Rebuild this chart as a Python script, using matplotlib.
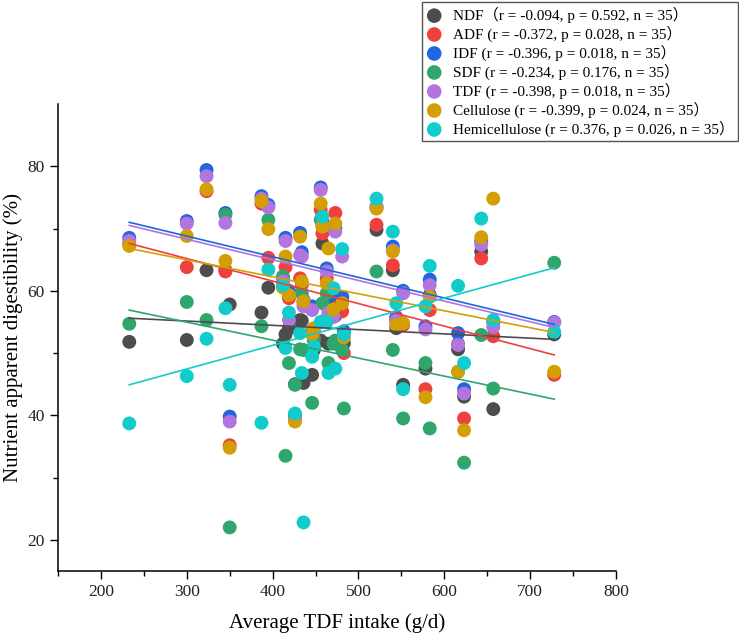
import numpy as np
import matplotlib.pyplot as plt

plt.rcParams['font.family'] = ['Liberation Serif', 'Noto Sans CJK SC', 'DejaVu Sans']

# average TDF intake (g/d), one value per animal
tdf = [233, 300, 323, 345, 350, 387, 395, 412, 415, 419, 426, 432, 434, 436, 446,
       448, 456, 458, 463, 465, 471, 473, 481, 483, 521, 540, 544, 552, 578, 583,
       616, 623, 643, 657, 728]

ndf = [51.8, 52.1, 63.3, 63.3, 57.8, 56.5, 60.5, 51.5, 53.0, 54.0, 45.0, 55.3, 55.2, 45.2, 46.5,
       50.5, 52.0, 67.6, 55.5, 51.5, 59.0, 56.0, 59.0, 51.6, 69.8, 63.3, 54.0, 44.9, 47.5, 59.3,
       50.6, 43.0, 66.3, 41.0, 53.0]
adf = [67.5, 63.8, 76.0, 63.1, 35.2, 74.0, 65.3, 61.0, 63.8, 58.8, 39.2, 62.0, 61.0, 58.0, 53.5,
       52.5, 73.0, 69.2, 62.0, 58.5, 57.0, 72.5, 56.7, 50.0, 70.6, 64.1, 55.8, 54.5, 44.2, 56.9,
       51.5, 39.5, 65.2, 52.7, 46.5]
idf = [68.5, 71.2, 79.4, 72.5, 39.8, 75.2, 73.8, 62.0, 68.5, 60.0, 40.0, 69.3, 66.2, 58.5, 57.5,
       53.8, 76.6, 71.0, 63.6, 59.0, 56.5, 70.0, 59.0, 53.5, 73.5, 67.1, 55.5, 60.0, 54.3, 61.8,
       53.2, 44.2, 68.0, 55.0, 55.0]
sdf = [54.7, 58.2, 55.3, 72.2, 22.0, 54.3, 71.4, 62.3, 33.5, 48.4, 44.9, 50.6, 59.6, 50.5, 42.0,
       52.0, 71.4, 58.0, 59.6, 48.4, 51.5, 52.0, 50.5, 41.1, 63.1, 50.5, 55.0, 39.5, 48.4, 37.9,
       47.0, 32.4, 52.9, 44.3, 64.5]
tdf_dig = [68.0, 70.8, 78.4, 70.9, 39.0, 74.8, 73.4, 61.5, 68.0, 55.3, 39.5, 65.7, 65.5, 57.5, 56.9,
           53.5, 76.2, 70.5, 63.1, 56.5, 55.8, 69.5, 65.5, 53.0, 73.3, 66.5, 55.2, 59.6, 53.8, 60.9,
           51.3, 43.5, 67.4, 54.2, 54.9]
cellulose = [67.2, 68.8, 76.3, 64.8, 34.8, 74.4, 69.9, 60.5, 65.5, 59.3, 39.0, 68.7, 61.5, 58.3, 53.0,
             54.0, 74.0, 70.3, 61.2, 66.8, 57.0, 70.8, 58.0, 52.5, 73.2, 66.3, 54.5, 54.8, 42.9, 59.0,
             47.0, 37.6, 68.6, 74.8, 47.0]
hemi = [38.7, 46.3, 52.3, 57.2, 44.9, 38.8, 63.4, 60.9, 50.8, 56.5, 40.3, 53.2, 46.8, 22.8, 49.4,
        51.0, 55.0, 71.9, 55.0, 46.8, 60.4, 47.5, 66.7, 53.0, 74.8, 69.5, 58.0, 44.2, 57.5, 64.0,
        60.8, 48.4, 71.6, 55.3, 53.4]

# fitted regression lines as drawn: value at the lowest and highest intake
fit_lo = [55.6, 67.6, 71.0, 56.9, 70.5, 66.8, 44.9]
fit_hi = [52.2, 49.7, 54.6, 42.6, 54.1, 53.3, 63.7]

series = [ndf, adf, idf, sdf, tdf_dig, cellulose, hemi]
labels = ["NDF（r = -0.094, p = 0.592, n = 35）",
          "ADF (r = -0.372, p = 0.028, n = 35）",
          "IDF (r = -0.396, p = 0.018, n = 35）",
          "SDF (r = -0.234, p = 0.176, n = 35）",
          "TDF (r = -0.398, p = 0.018, n = 35）",
          "Cellulose (r = -0.399, p = 0.024, n = 35）",
          "Hemicellulose (r = 0.376, p = 0.026, n = 35）"]
colors = ['#4d4d4d', '#ef4040', '#1f66e0', '#2ea66c', '#b274de', '#d49f04', '#12cccc']

fig = plt.figure(figsize=(7.39, 6.36), dpi=100)
ax = fig.add_axes([0.0785, 0.1022, 0.7551, 0.7343])

x = np.array(tdf, dtype=float)
xs = [x.min(), x.max()]
for y, lo, hi, lab, c in zip(series, fit_lo, fit_hi, labels, colors):
    ax.scatter(x, y, s=100, color=c, edgecolors='none', label=lab, zorder=2)
    ax.plot(xs, [lo, hi], color=c, lw=1.2, zorder=3)

ax.set_xlim(150, 800)
ax.set_ylim(15, 90)
ax.set_xticks([200, 300, 400, 500, 600, 700, 800])
ax.set_xticks(np.arange(150, 801, 50), minor=True)
ax.set_yticks([20, 40, 60, 80])
ax.set_yticks([30, 50, 70], minor=True)
ax.tick_params(which='major', length=5.5, width=1, labelsize=12.5, direction='out', pad=4)
ax.tick_params(which='minor', length=3.5, width=1, direction='out')
for s in ['top', 'right']:
    ax.spines[s].set_visible(False)
for s in ['left', 'bottom']:
    ax.spines[s].set_linewidth(1.1)
for t in ax.get_xticklabels() + ax.get_yticklabels():
    t.set_color('#222222')

fig.text(0.456, 0.0204, "Average TDF intake (g/d)", ha='center', va='center', fontsize=15)
fig.text(0.018, 0.47, "Nutrient apparent digestibility (%)", ha='center', va='center',
         rotation=90, fontsize=15)

leg = fig.legend(loc='upper left', bbox_to_anchor=(422 / 739, 1 - 2 / 636), fontsize=11,
                 frameon=True, fancybox=False, edgecolor='#555555', framealpha=1,
                 handlelength=1.0, handletextpad=0.7, labelspacing=0.18, borderpad=0.3,
                 borderaxespad=0, scatterpoints=1, markerscale=1.05)
leg.get_frame().set_linewidth(1.0)

fig.savefig('out.png', dpi=100)
